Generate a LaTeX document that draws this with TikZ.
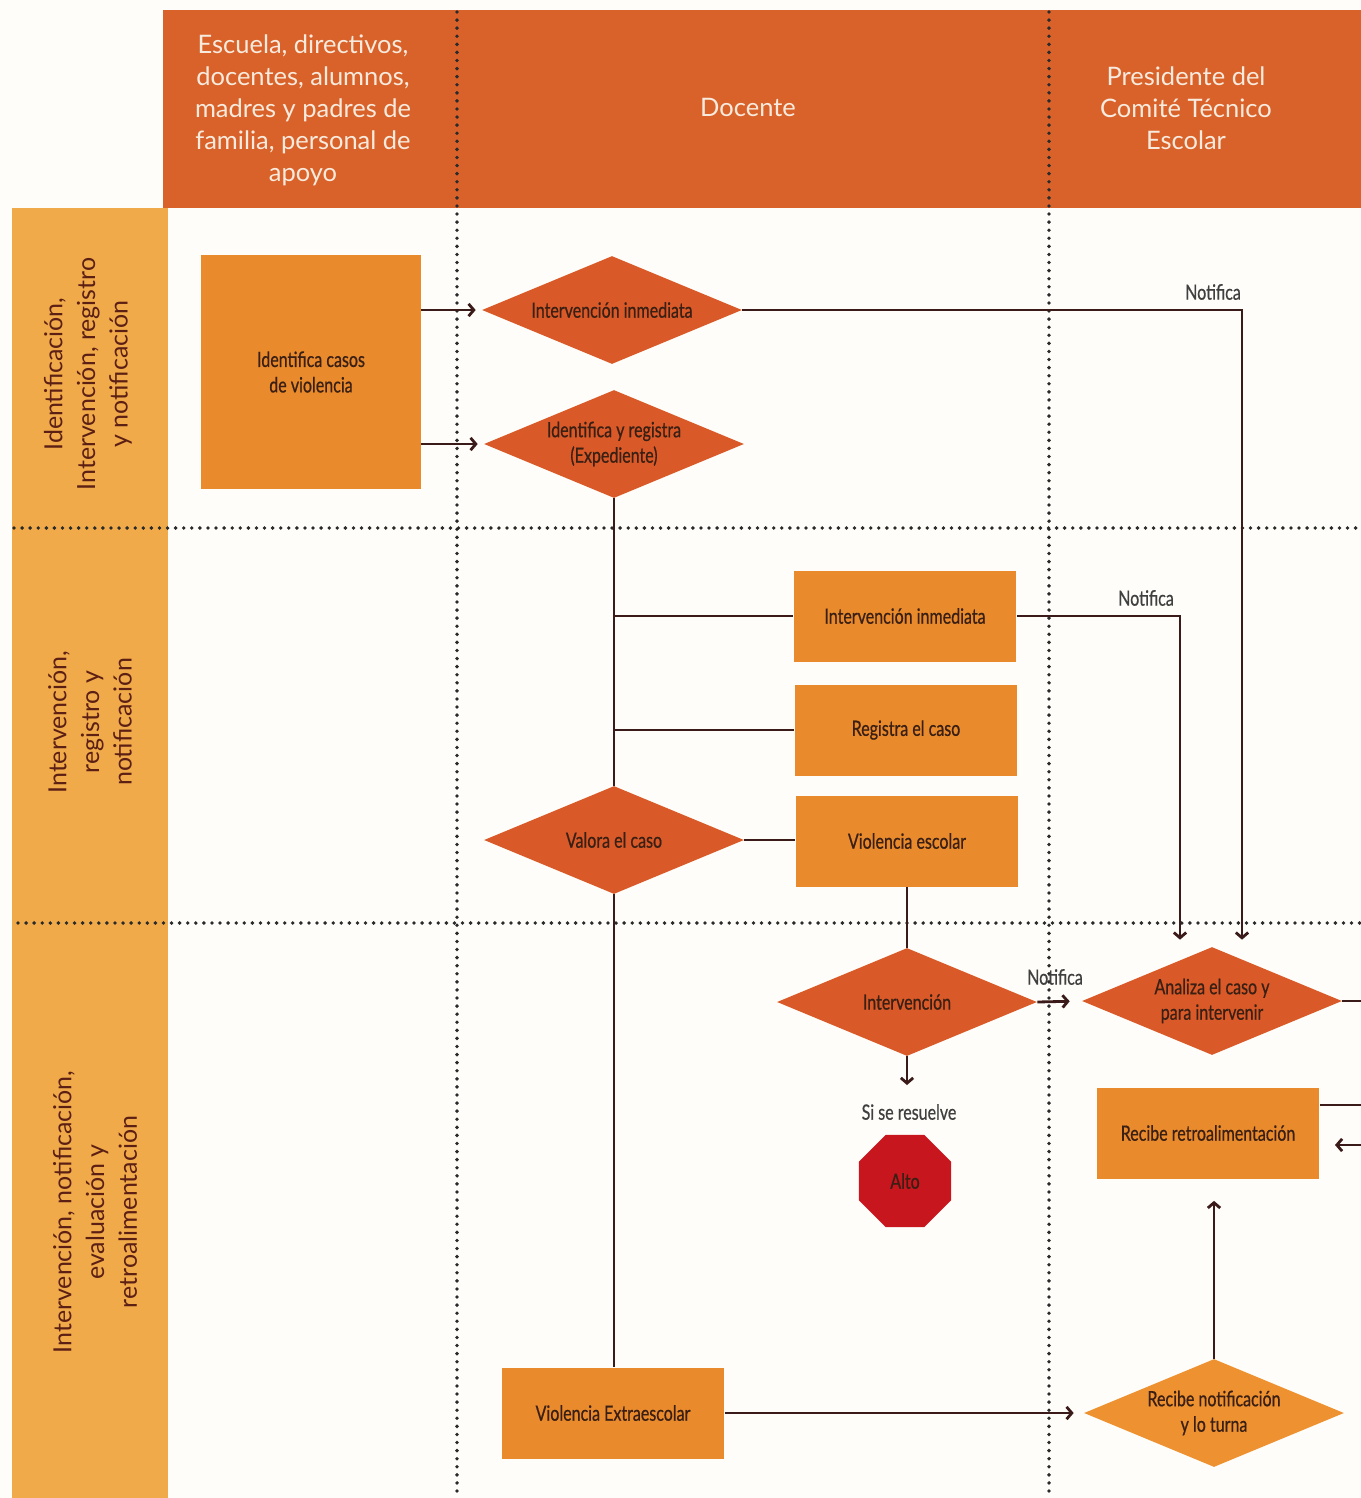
\documentclass[tikz,border=0pt]{standalone}
\usepackage{fontspec}
\setmainfont{Lato}
\newfontfamily\condfont[FakeStretch=0.76, FakeBold=0.6]{Lato}
\usetikzlibrary{shapes.geometric,arrows.meta}
\definecolor{fondo}{HTML}{FEFDF9}
\definecolor{cabecera}{HTML}{D9622B}
\definecolor{carril}{HTML}{F0AA4A}
\definecolor{naranja}{HTML}{E98A2C}
\definecolor{rojizo}{HTML}{D95A28}
\definecolor{claro}{HTML}{EE9130}
\definecolor{alto}{HTML}{C8161E}
\definecolor{trazo}{HTML}{3B1A1A}
\definecolor{tinta}{HTML}{3A1F14}
\definecolor{granate}{HTML}{5C1F14}
\definecolor{crema}{HTML}{F8EBDD}
\definecolor{puntos}{HTML}{2A2A2A}
\tikzset{
  caja/.style={fill=naranja, minimum width=4.46cm, minimum height=1.82cm,
    inner sep=0pt, text=tinta, align=center,
    font=\condfont\fontsize{12pt}{14.5pt}\selectfont},
  rombo/.style={diamond, aspect=2.4, fill=rojizo, minimum width=5.2cm,
    minimum height=2.16cm, inner sep=0pt, text=tinta, align=center,
    font=\condfont\fontsize{12pt}{14.5pt}\selectfont},
  cab/.style={text=crema, align=center, font=\fontsize{14.5pt}{18.2pt}\selectfont},
  carriltxt/.style={rotate=90, text=granate, align=center,
    font=\fontsize{14.2pt}{18.6pt}\selectfont},
  nota/.style={text=black!75, font=\condfont\fontsize{12pt}{14pt}\selectfont},
  linea/.style={draw=trazo, line width=1.6pt},
  flecha/.style={linea, -{Straight Barb[length=3pt,width=7pt]}},
  punteada/.style={draw=puntos, line width=2.2pt, line cap=round,
    dash pattern=on 0pt off 4.6pt}
}
\begin{document}
\begin{tikzpicture}[x=0.02cm,y=-0.02cm]
\useasboundingbox (0,0) rectangle (1361,1498);
\fill[fondo] (0,0) rectangle (1361,1498);
\fill[cabecera] (163,10) rectangle (1361,208);
\fill[carril] (12,208) rectangle (168,1498);
\draw[punteada] (457,12) -- (457,1498);
\draw[punteada] (1049,12) -- (1049,1498);
\draw[punteada] (14,528) -- (1361,528);
\draw[punteada] (18,923) -- (1361,923);

\node[cab] (colA) at (303,110) {Escuela, directivos,\\ docentes, alumnos,\\ madres y padres de\\ familia, personal de\\ apoyo};
\node[cab] (colB) at (748,107) {Docente};
\node[cab] (colC) at (1186,108) {Presidente del\\ Comité Técnico\\ Escolar};

\node[carriltxt] (carA) at (88,374) {Identificación,\\ Intervención, registro\\ y notificación};
\node[carriltxt] (carB) at (90,722) {Intervención,\\ registro y\\ notificación};
\node[carriltxt] (carC) at (95,1212) {Intervención, notificación,\\ evaluación y\\ retroalimentación};

\node[caja, minimum width=4.4cm, minimum height=4.7cm] (casos) at (311,372) {Identifica casos\\ de violencia};
\node[rombo] (inmed) at (612,310) {Intervención inmediata};
\node[rombo] (ireg) at (614,444) {Identifica y registra\\ (Expediente)};
\node[caja] (inmbox) at (905,616) {Intervención inmediata};
\node[caja] (regbox) at (906,730) {Registra el caso};
\node[caja] (vesc) at (907,841) {Violencia escolar};
\node[rombo] (valora) at (614,840) {Valora el caso};
\node[rombo] (interv) at (907,1002) {Intervención};
\node[nota] (resuelve) at (909,1112) {Si se resuelve};
\node[regular polygon, regular polygon sides=8, fill=alto, minimum size=2cm,
  inner sep=0pt, text=tinta, font=\condfont\fontsize{12pt}{14pt}\selectfont] (alto) at (905,1181) {Alto};
\node[rombo] (analiza) at (1212,1001) {Analiza el caso y\\ para intervenir};
\node[caja] (retro) at (1208,1133) {Recibe retroalimentación};
\node[rombo, fill=claro] (recibe) at (1214,1413) {Recibe notificación\\ y lo turna};
\node[caja] (vext) at (613,1413) {Violencia Extraescolar};

\node[nota] (notA) at (1213,292) {Notifica};
\node[nota] (notB) at (1146,598) {Notifica};
\node[nota] (notC) at (1055,977) {Notifica};

\coordinate (salA) at (1361,1001);
\coordinate (salB) at (1361,1105);
\coordinate (entB) at (1361,1145);
\coordinate (finB) at (1335,1145);
\coordinate (finI) at (907,1085);

\draw[flecha, shorten >=0.12cm] (casos.east |- inmed) -- (inmed.west);
\draw[flecha, shorten >=0.12cm] (casos.east |- ireg) -- (ireg.west);
\draw[flecha] (inmed.east) -| ([xshift=0.6cm,yshift=0.14cm]analiza.north);
\draw[linea] (ireg.south) -- (valora.north);
\draw[linea] (ireg.south |- inmbox.west) -- (inmbox.west);
\draw[linea] (ireg.south |- regbox.west) -- (regbox.west);
\draw[flecha] (inmbox.east) -| ([xshift=-0.64cm,yshift=0.14cm]analiza.north);
\draw[linea] (valora.east) -- (valora.east -| vesc.west);
\draw[linea] (vesc.south) -- (interv.north);
\draw[flecha] (interv.south) -- (finI);
\draw[flecha, shorten >=0.24cm] (interv.east) -- (analiza.west);
\draw[linea] (analiza.east) -- (salA);
\draw[linea] (retro.east |- salB) -- (salB);
\draw[flecha] (entB) -- (finB);
\draw[flecha, shorten >=0.44cm] (recibe.north) -- (recibe.north |- retro.south);
\draw[linea] (valora.south) -- (valora.south |- vext.north);
\draw[flecha, shorten >=0.2cm] (vext.east) -- (recibe.west);
\end{tikzpicture}
\end{document}
